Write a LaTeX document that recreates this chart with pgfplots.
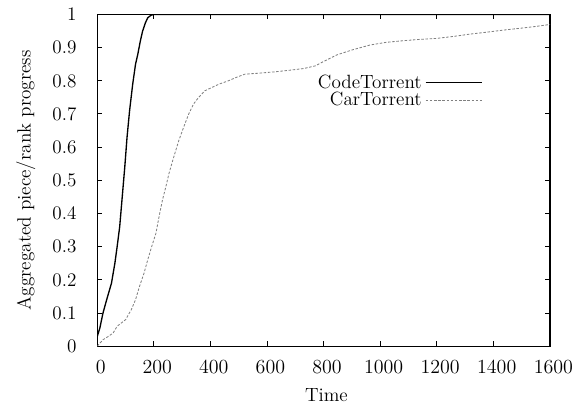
\documentclass[border=0pt]{standalone}
\usepackage{pgfplots}
\pgfplotsset{compat=1.18}
\begin{document}
\fontsize{11.5}{13.8}\selectfont
\begin{tikzpicture}
\begin{axis}[
  scale only axis,
  width=271.6pt, height=199pt,
  xmin=0, xmax=1600, ymin=0, ymax=1,
  xtick={0,200,...,1600},
  ytick={0,0.1,...,1.0},
  yticklabels={0,0.1,0.2,0.3,0.4,0.5,0.6,0.7,0.8,0.9,1},
  /pgf/number format/1000 sep={},
  tick align=inside,
  major tick length=3pt,
  axis line style={line width=0.8pt},
  every tick/.style={black, line width=0.6pt},
  yticklabel style={xshift=-8.5pt},
  xticklabel style={yshift=-4.5pt, xshift=2pt},
  xlabel={Time},
  ylabel={Aggregated piece/rank progress},
  xlabel style={at={(axis description cs:0.506,-0.149)}, anchor=center},
  ylabel style={at={(axis description cs:-0.158,0.5)}, anchor=center},
  legend plot pos=right,
  legend cell align=right,
  legend style={draw=none, fill=none, at={(axis description cs:0.855,0.835)}, anchor=north east,
    row sep=-3.5pt, inner sep=1pt},
  legend image code/.code={\draw[#1] (0cm,0cm) -- (1.18cm,0cm);},
]
\addplot[black, line width=0.8pt] coordinates {
(0,0.03) (9,0.055) (20,0.10) (33,0.14) (50,0.19) (62,0.25) (70,0.30) (79,0.36)
(88,0.45) (97,0.54) (105,0.63) (114,0.71) (125,0.79) (135,0.85) (143,0.88)
(152,0.92) (160,0.95) (170,0.975) (178,0.99) (190,0.998) (201,1.0) (1600,1.0)
};
\addlegendentry{CodeTorrent}
\addplot[gray, line width=0.5pt, dash pattern=on 1.5pt off 1pt] coordinates {
(0,0) (10,0.01) (21,0.02) (40,0.03) (56,0.04) (70,0.06) (85,0.07) (100,0.08)
(120,0.11) (135,0.14) (149,0.18) (165,0.22) (178,0.26) (192,0.30) (207,0.34)
(218,0.39) (230,0.44) (242,0.48) (253,0.52) (270,0.57) (288,0.62) (305,0.66)
(323,0.70) (340,0.73) (358,0.75) (380,0.77) (405,0.78) (430,0.79) (463,0.80)
(490,0.81) (521,0.82) (570,0.823) (626,0.827) (680,0.832) (729,0.837) (770,0.845)
(799,0.858) (846,0.878) (900,0.893) (964,0.908) (1020,0.916) (1082,0.921)
(1140,0.925) (1200,0.928) (1260,0.934) (1318,0.941) (1380,0.947) (1436,0.953)
(1500,0.959) (1550,0.964) (1600,0.970)
};
\addlegendentry{CarTorrent}
\end{axis}
\pgfresetboundingbox
\path ([xshift=-58.4pt,yshift=-35.4pt]current axis.south west)
  rectangle ([xshift=19.8pt,yshift=8.7pt]current axis.north east);
\end{tikzpicture}
\end{document}
